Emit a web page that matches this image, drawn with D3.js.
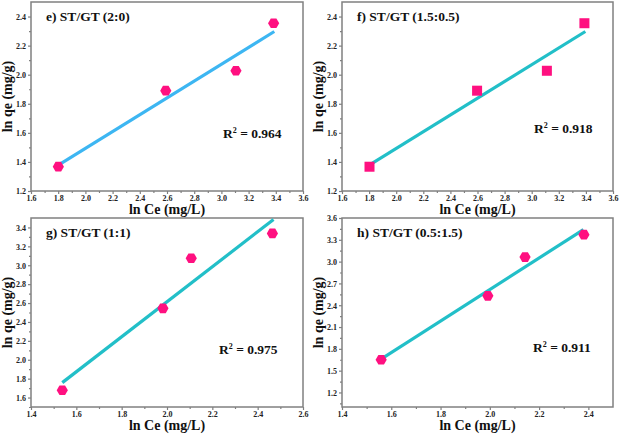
<!DOCTYPE html>
<html><head><meta charset="utf-8">
<script src="https://cdn.jsdelivr.net/npm/d3@7"></script>
<style>body{margin:0;background:#fff}svg{display:block}text{font-family:"Liberation Serif","Times New Roman",serif;font-weight:bold}</style>
</head><body>
<script>
// Data
const xE = [1.801, 2.591, 3.107, 3.384];
const yE = [1.367, 1.890, 2.027, 2.354];
const fitE = [[1.801, 1.378], [3.389, 2.297]];
const xF = [1.803, 2.597, 3.112, 3.389];
const yF = [1.367, 1.890, 2.027, 2.354];
const fitF = [[1.801, 1.378], [3.396, 2.297]];
const xG = [1.538, 1.982, 2.107, 2.465];
const yG = [1.677, 2.544, 3.074, 3.337];
const fitG = [[1.538, 1.758], [2.470, 3.484]];
const xH = [1.559, 1.992, 2.143, 2.382];
const yH = [1.650, 2.530, 3.063, 3.370];
const fitH = [[1.565, 1.672], [2.380, 3.440]];
const titles = ["e) ST/GT (2:0)", "f) ST/GT (1.5:0.5)", "g) ST/GT (1:1)", "h) ST/GT (0.5:1.5)"];
const r2Labels = ["0.964", "0.918", "0.975", "0.911"];
const xTicksTop = [1.6, 1.8, 2.0, 2.2, 2.4, 2.6, 2.8, 3.0, 3.2, 3.4, 3.6];
const yTicksTop = [1.2, 1.4, 1.6, 1.8, 2.0, 2.2, 2.4];
const xTicksG = [1.4, 1.6, 1.8, 2.0, 2.2, 2.4, 2.6];
const yTicksG = [1.6, 1.8, 2.0, 2.2, 2.4, 2.6, 2.8, 3.0, 3.2, 3.4];
const xTicksH = [1.4, 1.6, 1.8, 2.0, 2.2, 2.4];
const yTicksH = [1.2, 1.5, 1.8, 2.1, 2.4, 2.7, 3.0, 3.3, 3.6];

const W = 620, H = 437;
const svg = d3.select("body").append("svg").attr("width", W).attr("height", H);

const panels = [
  {x: xE, y: yE, fit: fitE, xd: [1.6, 3.6], yd: [1.2, 2.5], xt: xTicksTop, yt: yTicksTop, l: 31, r: 303, t: 2, b: 191, marker: "hex", line: "#3db6f2", title: titles[0], r2: r2Labels[0], r2x: 223, r2y: 138},
  {x: xF, y: yF, fit: fitF, xd: [1.6, 3.6], yd: [1.2, 2.5], xt: xTicksTop, yt: yTicksTop, l: 342, r: 613, t: 2, b: 191, marker: "sq", line: "#22bfc8", title: titles[1], r2: r2Labels[1], r2x: 534, r2y: 133},
  {x: xG, y: yG, fit: fitG, xd: [1.4, 2.6], yd: [1.5, 3.5], xt: xTicksG, yt: yTicksG, l: 31, r: 303, t: 218, b: 407, marker: "hex", line: "#22bfc8", title: titles[2], r2: r2Labels[2], r2x: 219, r2y: 354},
  {x: xH, y: yH, fit: fitH, xd: [1.4, 2.5], yd: [1.0, 3.6], xt: xTicksH, yt: yTicksH, l: 342, r: 613, t: 218, b: 407, marker: "hex", line: "#22bfc8", title: titles[3], r2: r2Labels[3], r2x: 533, r2y: 352}
];

const axisCol = "#808080";
const pink = "#ff1080";

panels.forEach(p => {
  const g = svg.append("g");
  const x = d3.scaleLinear().domain(p.xd).range([p.l, p.r]);
  const y = d3.scaleLinear().domain(p.yd).range([p.b, p.t]);
  g.append("rect").attr("x", p.l).attr("y", p.t).attr("width", p.r - p.l).attr("height", p.b - p.t)
    .attr("fill", "none").attr("stroke", axisCol).attr("stroke-width", 1.5);
  const xStep = p.xt[1] - p.xt[0], yStep = p.yt[1] - p.yt[0];
  const xMinor = d3.range(p.xt.length - 1).map(i => p.xt[i] + xStep / 2).filter(v => v < p.xd[1]);
  const yMinor = [];
  for (let v = p.yt[0] - yStep / 2; v < p.yd[1]; v += yStep / 2) {
    if (v > p.yd[0] - 1e-9 && v <= p.yd[1] + 1e-9) yMinor.push(v);
  }
  const xAxis = d3.axisBottom(x).tickValues(p.xt).tickSize(3).tickFormat(d3.format(".1f"));
  const xa = g.append("g").attr("transform", `translate(0,${p.b})`).call(xAxis);
  const xm = g.append("g").attr("transform", `translate(0,${p.b})`).call(d3.axisBottom(x).tickValues(xMinor).tickSize(2).tickFormat(""));
  const yAxis = d3.axisLeft(y).tickValues(p.yt).tickSize(3).tickFormat(d3.format(".1f"));
  const ya = g.append("g").attr("transform", `translate(${p.l},0)`).call(yAxis);
  const ym = g.append("g").attr("transform", `translate(${p.l},0)`).call(d3.axisLeft(y).tickValues(yMinor.filter(v => !p.yt.some(t => Math.abs(t - v) < 1e-6))).tickSize(2).tickFormat(""));
  [xa, xm, ya, ym].forEach(a => {
    a.select(".domain").remove();
    a.selectAll("line").attr("stroke", axisCol).attr("stroke-width", 1.2);
    a.selectAll("text").attr("fill", "#222").style("font-size", "8px").style("font-family", "Liberation Serif").style("font-weight", "bold");
  });
  xa.selectAll("text").attr("dy", "0.85em").attr("y", 3);
  ya.selectAll("text").attr("x", -5).attr("dy", "0.35em");

  g.append("line").attr("x1", x(p.fit[0][0])).attr("y1", y(p.fit[0][1]))
    .attr("x2", x(p.fit[1][0])).attr("y2", y(p.fit[1][1]))
    .attr("stroke", p.line).attr("stroke-width", 3.2).attr("stroke-linecap", "butt");

  const pts = p.x.map((v, i) => [v, p.y[i]]);
  if (p.marker === "sq") {
    g.selectAll("rect.pt").data(pts).join("rect").attr("class", "pt")
      .attr("x", d => x(d[0]) - 5).attr("y", d => y(d[1]) - 5).attr("width", 10).attr("height", 10).attr("fill", pink);
  } else {
    const rr = 5.6;
    const hex = d3.range(6).map(k => [rr * Math.cos(Math.PI / 3 * k), rr * Math.sin(Math.PI / 3 * k)]);
    g.selectAll("path.pt").data(pts).join("path").attr("class", "pt")
      .attr("transform", d => `translate(${x(d[0])},${y(d[1])})`)
      .attr("d", "M" + hex.map(h => h.join(",")).join("L") + "Z").attr("fill", pink);
  }

  g.append("text").attr("x", p.l + 15).attr("y", p.t + 19).style("font-size", "13.5px").attr("fill", "#111").text(p.title);
  const t = g.append("text").attr("x", p.r2x).attr("y", p.r2y).style("font-size", "13.5px").attr("fill", "#111");
  t.append("tspan").text("R");
  t.append("tspan").attr("dy", -5).style("font-size", "8px").text("2");
  t.append("tspan").attr("dy", 5).text(" = " + p.r2);
  g.append("text").attr("x", (p.l + p.r) / 2).attr("y", p.b + 23).attr("text-anchor", "middle").style("font-size", "14px").attr("fill", "#111").text("ln Ce (mg/L)");
  g.append("text").attr("transform", `translate(${p.l - 19},${(p.t + p.b) / 2}) rotate(-90)`).attr("text-anchor", "middle").style("font-size", "14px").attr("fill", "#111").text("ln qe (mg/g)");
});
</script>
</body></html>
